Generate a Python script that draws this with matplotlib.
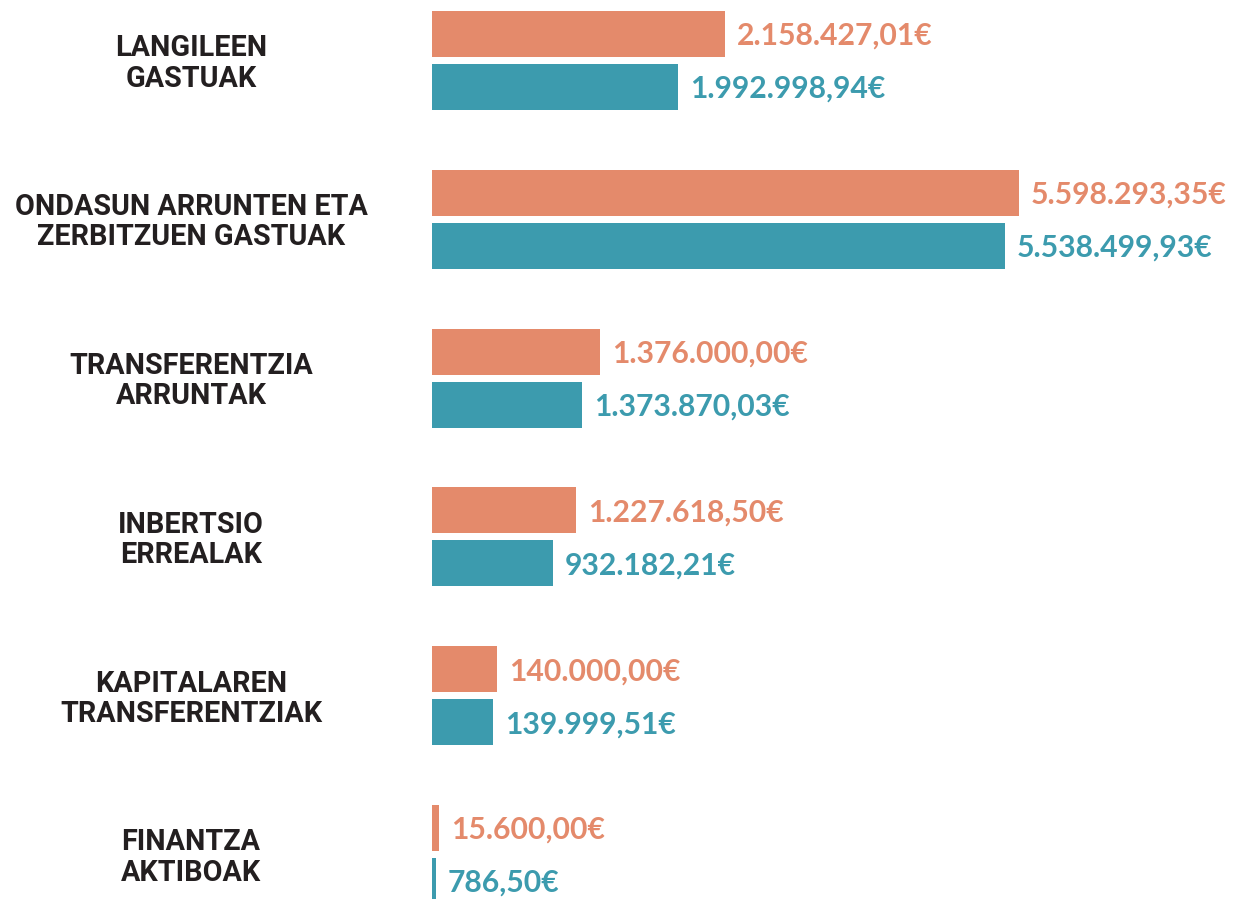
import matplotlib
matplotlib.use("Agg")
import matplotlib.pyplot as plt
from matplotlib import font_manager

# ---- data ----
categories = ["LANGILEEN\nGASTUAK",
              "ONDASUN ARRUNTEN ETA\nZERBITZUEN GASTUAK",
              "TRANSFERENTZIA\nARRUNTAK",
              "INBERTSIO\nERREALAK",
              "KAPITALAREN\nTRANSFERENTZIAK",
              "FINANTZA\nAKTIBOAK"]
orange_labels = ["2.158.427,01€", "5.598.293,35€", "1.376.000,00€",
                 "1.227.618,50€", "140.000,00€", "15.600,00€"]
teal_labels = ["1.992.998,94€", "5.538.499,93€", "1.373.870,03€",
               "932.182,21€", "139.999,51€", "786,50€"]
# bar lengths as drawn in the picture (the source's bars are not proportional
# to their labels); expressed in € on the scale of the longest bar
orange_drawn = [2794000, 5598293, 1602000, 1373000, 620000, 66800]
teal_drawn = [2346000, 5465000, 1431000, 1154000, 582000, 38000]

ORANGE = "#E48A6B"
TEAL = "#3C9BAE"
DARK = "#231F20"

installed = {f.name for f in font_manager.fontManager.ttflist}
cat_font = "Roboto" if "Roboto" in installed else "DejaVu Sans"
val_font = "Lato" if "Lato" in installed else "DejaVu Sans"

W, H = 1234, 899
fig = plt.figure(figsize=(W / 100, H / 100), dpi=100)
renderer = fig.canvas.get_renderer()


def fit_size(text, family, target_px, base=20.0):
    t = fig.text(0, 0, text, fontsize=base, fontweight="bold", family=family)
    w = t.get_window_extent(renderer).width
    t.remove()
    return base * target_px / w


cat_size = fit_size("ONDASUN ARRUNTEN ETA", cat_font, 352)
val_size = fit_size("5.598.293,35€", val_font, 196)

left_px = 432
ax = fig.add_axes([left_px / W, 0, 1 - left_px / W, 1])
ax.axis("off")

px_per_eur = 587 / 5598293
ax.set_xlim(0, (W - left_px) / px_per_eur)
pitch = 158.8
c0 = 60.5
ax.set_ylim((H - c0) / pitch, (0 - c0) / pitch)

off = 26.5 / pitch
bh = 46 / pitch
ys = list(range(len(categories)))
ax.barh([y - off for y in ys], orange_drawn, height=bh, color=ORANGE, left=0)
ax.barh([y + off for y in ys], teal_drawn, height=bh, color=TEAL, left=0)

gap = 12 / px_per_eur
for y, v, s in zip(ys, orange_drawn, orange_labels):
    ax.text(v + gap, y - off + 2 / pitch, s, color=ORANGE, fontsize=val_size,
            fontweight="bold", family=val_font, va="center", ha="left")
for y, v, s in zip(ys, teal_drawn, teal_labels):
    ax.text(v + gap, y + off + 2 / pitch, s, color=TEAL, fontsize=val_size,
            fontweight="bold", family=val_font, va="center", ha="left")

for y, c in zip(ys, categories):
    fig.text(191 / W, 1 - (c0 + y * pitch + 3) / H, c, color=DARK,
             fontsize=cat_size, fontweight="bold", family=cat_font,
             ha="center", va="center", linespacing=1.1,
             multialignment="center")

fig.savefig("out.png", dpi=100, facecolor="white")
